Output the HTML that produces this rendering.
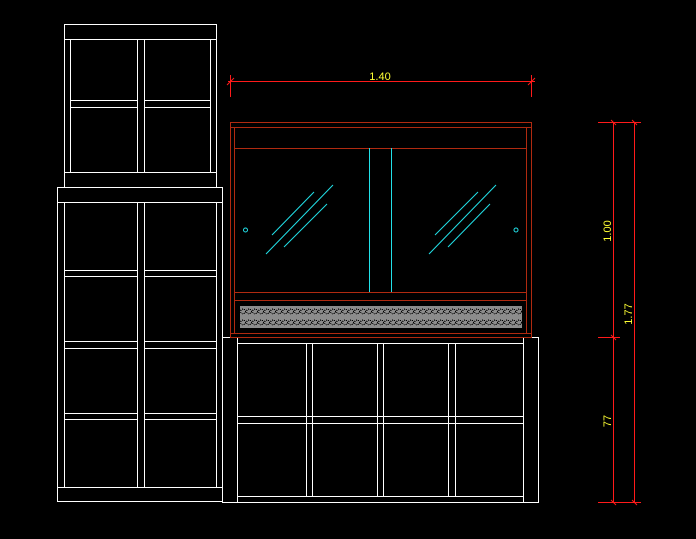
<!DOCTYPE html>
<html><head><meta charset="utf-8"><style>html,body{margin:0;padding:0;background:#000;}svg{display:block}</style></head>
<body>
<svg width="696" height="539" viewBox="0 0 696 539" xmlns="http://www.w3.org/2000/svg" shape-rendering="crispEdges">
<defs>
<pattern id="hp" x="240" y="306" width="6" height="11" patternUnits="userSpaceOnUse">
<rect width="6" height="11" fill="#8c8c8c"/>
<circle cx="3" cy="5.5" r="2.4" fill="none" stroke="#000" stroke-width="1" stroke-dasharray="1 1"/>
</pattern>
</defs>
<g fill="none" stroke="#fff" stroke-width="1.3">
<!-- top left cabinet -->
<rect x="64.5" y="24.5" width="152" height="163"/>
<line x1="64" y1="39.5" x2="216" y2="39.5"/>
<line x1="70.5" y1="39" x2="70.5" y2="172"/>
<line x1="137.5" y1="39" x2="137.5" y2="172"/>
<line x1="144.5" y1="39" x2="144.5" y2="172"/>
<line x1="210.5" y1="39" x2="210.5" y2="172"/>
<line x1="64" y1="172.5" x2="216" y2="172.5"/>
<line x1="70" y1="100.5" x2="137" y2="100.5"/><line x1="70" y1="107.5" x2="137" y2="107.5"/>
<line x1="144" y1="100.5" x2="210" y2="100.5"/><line x1="144" y1="107.5" x2="210" y2="107.5"/>
<!-- lower left cabinet -->
<rect x="57.5" y="187.5" width="165" height="314"/>
<line x1="57" y1="202.5" x2="222" y2="202.5"/>
<line x1="57" y1="487.5" x2="222" y2="487.5"/>
<line x1="64.5" y1="202" x2="64.5" y2="487"/>
<line x1="137.5" y1="202" x2="137.5" y2="487"/>
<line x1="144.5" y1="202" x2="144.5" y2="487"/>
<line x1="216.5" y1="202" x2="216.5" y2="487"/>
<g>
<line x1="64" y1="270.5" x2="137" y2="270.5"/><line x1="64" y1="276.5" x2="137" y2="276.5"/>
<line x1="144" y1="270.5" x2="216" y2="270.5"/><line x1="144" y1="276.5" x2="216" y2="276.5"/>
<line x1="64" y1="341.5" x2="137" y2="341.5"/><line x1="64" y1="348.5" x2="137" y2="348.5"/>
<line x1="144" y1="341.5" x2="216" y2="341.5"/><line x1="144" y1="348.5" x2="216" y2="348.5"/>
<line x1="64" y1="413.5" x2="137" y2="413.5"/><line x1="64" y1="419.5" x2="137" y2="419.5"/>
<line x1="144" y1="413.5" x2="216" y2="413.5"/><line x1="144" y1="419.5" x2="216" y2="419.5"/>
</g>
<!-- bottom cabinet -->
<rect x="222.5" y="337.5" width="316" height="165"/>
<line x1="237.5" y1="337" x2="237.5" y2="502"/>
<line x1="523.5" y1="337" x2="523.5" y2="502"/>
<line x1="237" y1="343.5" x2="523" y2="343.5"/>
<line x1="237" y1="496.5" x2="523" y2="496.5"/>
<line x1="237" y1="416.5" x2="523" y2="416.5"/>
<line x1="237" y1="423.5" x2="523" y2="423.5"/>
<line x1="306.5" y1="343" x2="306.5" y2="496"/><line x1="312.5" y1="343" x2="312.5" y2="496"/>
<line x1="377.5" y1="343" x2="377.5" y2="496"/><line x1="383.5" y1="343" x2="383.5" y2="496"/>
<line x1="448.5" y1="343" x2="448.5" y2="496"/><line x1="455.5" y1="343" x2="455.5" y2="496"/>
</g>
<!-- glass cabinet -->
<rect x="240" y="306" width="282" height="22" fill="url(#hp)"/>
<g fill="none" stroke="#b02a10" stroke-width="1.2">
<rect x="230.5" y="122.5" width="301" height="215" fill="#000"/>
<line x1="230" y1="127.5" x2="531" y2="127.5"/>
<line x1="234.5" y1="127" x2="234.5" y2="333"/>
<line x1="526.5" y1="127" x2="526.5" y2="333"/>
<line x1="234" y1="148.5" x2="526" y2="148.5"/>
<line x1="234" y1="292.5" x2="526" y2="292.5"/>
<line x1="234" y1="300.5" x2="526" y2="300.5"/>
<line x1="230" y1="333.5" x2="531" y2="333.5"/>
</g>
<rect x="240" y="306" width="282" height="22" fill="url(#hp)"/>
<g fill="none" stroke="#22e0e8" stroke-width="1" shape-rendering="auto">
<line x1="369.5" y1="148" x2="369.5" y2="292"/>
<line x1="391.5" y1="148" x2="391.5" y2="292"/>
<line x1="272" y1="235" x2="314" y2="192"/>
<line x1="266" y1="254" x2="333" y2="185"/>
<line x1="284" y1="247" x2="327" y2="204"/>
<line x1="435" y1="235" x2="478" y2="192"/>
<line x1="429" y1="254" x2="496" y2="185"/>
<line x1="448" y1="247" x2="490" y2="204"/>
<circle cx="245.5" cy="230" r="2"/>
<circle cx="516" cy="230" r="2"/>
</g>
<!-- dimensions -->
<g stroke="#ff1a1a" stroke-width="1.2" fill="none">
<line x1="228" y1="81.5" x2="535" y2="81.5"/>
<line x1="230.5" y1="75" x2="230.5" y2="97"/>
<line x1="531.5" y1="75" x2="531.5" y2="97"/>
<line x1="613.5" y1="122" x2="613.5" y2="502"/>
<line x1="634.5" y1="122" x2="634.5" y2="502"/>
<line x1="598" y1="122.5" x2="641" y2="122.5"/>
<line x1="598" y1="502.5" x2="641" y2="502.5"/>
<line x1="598" y1="337.5" x2="620" y2="337.5"/>
</g>
<g stroke="#ff1a1a" stroke-width="1" shape-rendering="auto">
<line x1="227" y1="85" x2="234" y2="78"/><line x1="528" y1="85" x2="535" y2="78"/>
<line x1="611" y1="120" x2="616" y2="125"/><line x1="632" y1="120" x2="637" y2="125"/>
<line x1="611" y1="335" x2="616" y2="340"/>
<line x1="611" y1="500" x2="616" y2="505"/><line x1="632" y1="500" x2="637" y2="505"/>
</g>
<g fill="#ffff33" font-family="Liberation Sans, sans-serif" font-size="11">
<text x="380" y="80" text-anchor="middle">1.40</text>
<text transform="translate(611,231) rotate(-90)" text-anchor="middle">1.00</text>
<text transform="translate(611,421) rotate(-90)" text-anchor="middle">77</text>
<text transform="translate(632,314) rotate(-90)" text-anchor="middle">1.77</text>
</g>
</svg>
</body></html>
